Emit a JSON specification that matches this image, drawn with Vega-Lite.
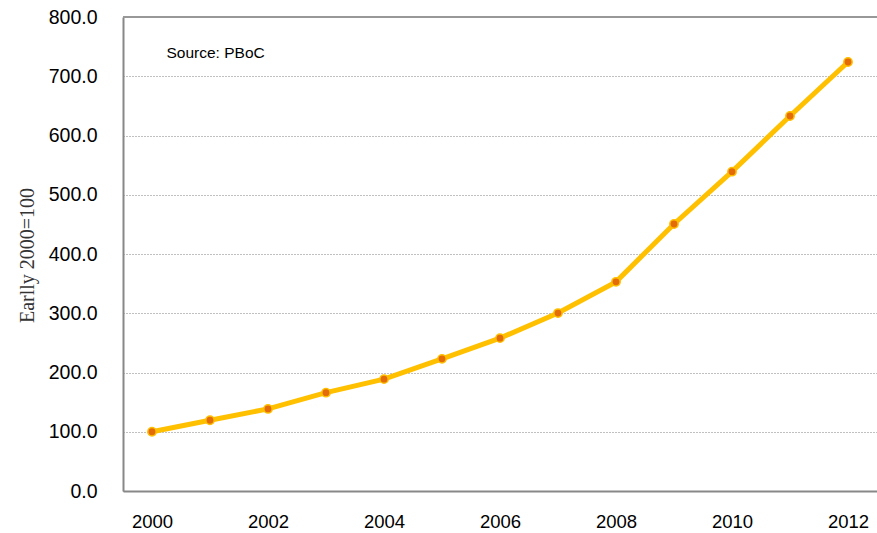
{
  "$schema": "https://vega.github.io/schema/vega-lite/v6.json",
  "autosize": "none",
  "width": 754,
  "height": 474,
  "padding": {"left": 123, "top": 17, "right": 0, "bottom": 42},
  "background": "white",
  "config": {
    "view": {"stroke": null},
    "font": "Liberation Sans"
  },
  "data": {
    "values": [
      {"year": 2000, "index": 100.0},
      {"year": 2001, "index": 119.4},
      {"year": 2002, "index": 138.5},
      {"year": 2003, "index": 166.0},
      {"year": 2004, "index": 188.8},
      {"year": 2005, "index": 223.0},
      {"year": 2006, "index": 258.0},
      {"year": 2007, "index": 300.3},
      {"year": 2008, "index": 353.0},
      {"year": 2009, "index": 450.7},
      {"year": 2010, "index": 539.0},
      {"year": 2011, "index": 633.0},
      {"year": 2012, "index": 724.0}
    ]
  },
  "encoding": {
    "x": {
      "field": "year",
      "type": "quantitative",
      "scale": {"domain": [1999.5, 2012.5], "nice": false, "zero": false},
      "axis": {
        "title": null,
        "values": [2000, 2002, 2004, 2006, 2008, 2010, 2012],
        "format": "d",
        "grid": false,
        "ticks": false,
        "domainColor": "#888888",
        "domainWidth": 2,
        "labelFontSize": 18.5,
        "labelColor": "#000000",
        "labelPadding": 21
      }
    },
    "y": {
      "field": "index",
      "type": "quantitative",
      "scale": {"domain": [0, 800], "nice": false},
      "axis": {
        "title": "Earlly 2000=100",
        "titleFont": "Liberation Serif",
        "titleFontSize": 20,
        "titleFontWeight": "normal",
        "titleColor": "#333333",
        "titleAngle": -90,
        "titleX": -96,
        "titleY": 238,
        "titleAlign": "center",
        "titleBaseline": "middle",
        "values": [0, 100, 200, 300, 400, 500, 600, 700, 800],
        "format": ".1f",
        "grid": true,
        "gridColor": "#808080",
        "gridDash": [1, 2],
        "gridWidth": 1,
        "ticks": false,
        "domainColor": "#888888",
        "domainWidth": 2,
        "labelFontSize": 19.5,
        "labelColor": "#000000",
        "labelPadding": 26
      }
    }
  },
  "layer": [
    {
      "mark": {"type": "rule", "color": "#999999", "strokeWidth": 1.5},
      "encoding": {"y": {"datum": 800}, "x": null}
    },
    {
      "mark": {"type": "line", "color": "#FFC000", "strokeWidth": 5}
    },
    {
      "mark": {"type": "point", "filled": true, "fill": "#E36C09", "stroke": "#FFC000", "strokeWidth": 1.5, "size": 70, "opacity": 1}
    },
    {
      "data": {"values": [{"year": 2000.25, "index": 739, "label": "Source:  PBoC"}]},
      "mark": {"type": "text", "align": "left", "baseline": "middle", "fontSize": 15.5, "color": "#000000"},
      "encoding": {"text": {"field": "label"}}
    }
  ]
}
